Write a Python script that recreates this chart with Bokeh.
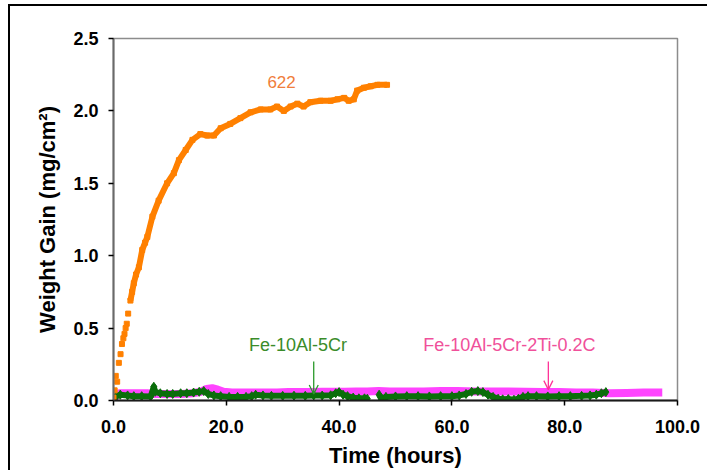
from bokeh.plotting import figure
from bokeh.models import Range1d, FixedTicker, NumeralTickFormatter, Label, Arrow, OpenHead
from bokeh.embed import file_html
from bokeh.resources import INLINE

# ---- data ----
x_ticks = [0, 20, 40, 60, 80, 100]
y_ticks = [0.0, 0.5, 1.0, 1.5, 2.0, 2.5]

t_622 = [0.0, 0.2, 0.4, 0.65, 0.95, 1.25, 1.5, 1.75, 1.95, 2.15, 2.35, 2.6, 3.0, 3.3, 3.6,
         4.0, 4.5, 5.1, 5.6, 6.0, 6.9, 8.0, 9.5, 10.7, 11.6, 12.8, 14.0, 15.4, 16.6, 17.8,
         19.0, 20.7, 22.5, 24.3, 26.1, 27.8, 29.0, 30.2, 31.4, 32.6, 33.7, 34.9, 36.7, 38.5,
         39.7, 40.9, 41.7, 42.6, 43.2, 44.4, 45.6, 46.8, 48.5]
w_622 = [0.02, 0.07, 0.17, 0.13, 0.26, 0.32, 0.39, 0.43, 0.46, 0.50, 0.53, 0.60, 0.69, 0.75, 0.81,
         0.87, 0.92, 1.04, 1.09, 1.13, 1.27, 1.38, 1.50, 1.57, 1.66, 1.73, 1.80, 1.84, 1.83, 1.83,
         1.88, 1.91, 1.95, 1.99, 2.01, 2.01, 2.03, 2.00, 2.03, 2.05, 2.03, 2.06, 2.07, 2.07,
         2.08, 2.09, 2.07, 2.08, 2.14, 2.16, 2.17, 2.18, 2.18]

t_fe5cr = [0.0, 0.5, 1.2, 2.5, 3.6, 5.0, 6.6, 7.15, 7.4, 8.3, 9.5, 10.5, 11.9, 13.0, 14.2, 15.2,
           16.0, 16.8, 17.8, 19.0, 20.5, 22.0, 23.5, 24.5, 25.2, 26.5, 28.0, 30.0, 32.0, 34.0,
           35.5, 37.0, 38.5, 39.4, 40.0, 40.7, 41.5, 42.5, 43.5, 44.5, 45.0, 46.0, 47.1, 47.5,
           48.3, 50.0, 52.0, 54.0, 56.0, 58.0, 60.0, 61.3, 62.5, 63.5, 64.6, 65.5, 66.4, 67.3,
           68.2, 69.0, 70.0, 71.0, 71.8, 72.6, 73.5, 75.0, 77.0, 79.0, 81.0, 83.0, 84.5, 85.6,
           86.5, 87.3]
w_fe5cr = [0.01, 0.03, 0.04, 0.035, 0.03, 0.03, 0.028, 0.095, 0.06, 0.05, 0.045, 0.045, 0.05,
           0.05, 0.055, 0.06, 0.065, 0.045, 0.035, 0.03, 0.025, 0.025, 0.025, 0.03, 0.04, 0.035,
           0.032, 0.032, 0.033, 0.032, 0.035, 0.034, 0.036, 0.05, 0.058, 0.04, 0.03, 0.02, 0.015,
           0.015, 0.012, float("nan"), 0.04, 0.012, 0.025, 0.028, 0.03, 0.03, 0.028, 0.03, 0.03,
           0.035, 0.045, 0.06, 0.065, 0.058, 0.04, 0.025, 0.012, 0.008, 0.01, 0.005, 0.012, 0.025,
           0.03, 0.03, 0.028, 0.03, 0.03, 0.032, 0.035, 0.04, 0.05, 0.058]

t_fe2ti = [0.0, 0.5, 1.0, 2.0, 4.0, 6.0, 7.0, 8.0, 10.0, 12.0, 14.0, 15.5, 16.5, 17.5, 18.5, 19.5,
           21.0, 23.0, 25.0, 27.0, 29.0, 31.0, 33.0, 35.0, 37.0, 39.0, 41.0, 43.0, 45.0, 47.0,
           49.0, 52.0, 55.0, 58.0, 61.0, 64.0, 67.0, 70.0, 73.0, 76.0, 79.0, 82.0, 85.0, 88.0,
           91.0, 94.0, 97.3]
w_fe2ti = [0.0, 0.04, 0.05, 0.05, 0.05, 0.05, 0.045, 0.045, 0.045, 0.045, 0.05, 0.06, 0.08, 0.085,
           0.075, 0.06, 0.055, 0.055, 0.055, 0.055, 0.055, 0.058, 0.058, 0.058, 0.06, 0.06, 0.06,
           0.062, 0.062, 0.065, 0.063, 0.063, 0.063, 0.065, 0.065, 0.063, 0.063, 0.062, 0.06,
           0.058, 0.058, 0.055, 0.055, 0.05, 0.052, 0.055, 0.055]

FONT = "Liberation Sans"
ORANGE = "#ff8000"
GREEN = "#0b6e0b"
MAGENTA = "#ff44ff"

# canvas starts at (10, 6) after the 8px/4px margin and 2px border
W, H = 697, 450
L, T = 103, 32
p = figure(frame_width=564, frame_height=362,
           min_border_left=L, min_border_right=W - L - 564, min_border_top=T,
           min_border_bottom=H - T - 362,
           x_range=Range1d(0, 100), y_range=Range1d(0, 2.5),
           output_backend="svg", toolbar_location=None,
           background_fill_color="white", border_fill_color="white")
p.styles = {"border-top": "2px solid black", "border-left": "2px solid black",
            "margin-left": "8px", "margin-top": "4px"}

p.grid.visible = False
p.outline_line_color = "#8c8c8c"
p.outline_line_width = 1.5

# series
p.line(t_fe2ti, w_fe2ti, line_color=MAGENTA, line_width=8, line_join="round")
p.line(t_fe5cr, w_fe5cr, line_color=GREEN, line_width=6, line_join="round")
p.scatter(t_fe5cr, w_fe5cr, marker="diamond", size=9, color=GREEN)
p.line(t_622[12:], w_622[12:], line_color=ORANGE, line_width=6)
p.scatter(t_622, w_622, marker="square", size=5, color=ORANGE)

# axes
p.xaxis.ticker = FixedTicker(ticks=x_ticks)
p.yaxis.ticker = FixedTicker(ticks=y_ticks)
p.xaxis.formatter = NumeralTickFormatter(format="0.0")
p.yaxis.formatter = NumeralTickFormatter(format="0.0")
for ax in (p.xaxis, p.yaxis):
    ax.major_label_text_font = FONT
    ax.major_label_text_font_style = "bold"
    ax.major_label_text_font_size = "18px"
    ax.major_label_text_color = "black"
    ax.axis_label_text_font = FONT
    ax.axis_label_text_font_style = "bold"
    ax.axis_label_text_font_size = "22px"
    ax.axis_label_text_color = "black"
    ax.major_tick_in = 0
    ax.major_tick_out = 5
    ax.major_tick_line_color = "black"
    ax.major_tick_line_width = 1.5
    ax.minor_tick_line_color = None
p.xaxis.axis_line_color = "#1a1a1a"
p.xaxis.axis_line_width = 2
p.yaxis.axis_line_color = "#6a6a6a"
p.yaxis.axis_line_width = 2
p.xaxis.major_label_standoff = 14
p.yaxis.major_label_standoff = 10
p.xaxis.axis_label = "Time (hours)"
p.yaxis.axis_label = "Weight Gain (mg/cm²)"
p.xaxis.axis_label_standoff = 7
p.yaxis.axis_label_standoff = 10

# annotations
p.add_layout(Label(x=29.8, y=2.2, text="622", text_font=FONT, text_font_size="17px",
                   text_color="#f07d3a", text_align="center", text_baseline="middle"))
p.add_layout(Label(x=32.7, y=0.38, text="Fe-10Al-5Cr", text_font=FONT, text_font_size="18px",
                   text_color="#3a8c2a", text_align="center", text_baseline="middle"))
p.add_layout(Label(x=70.2, y=0.38, text="Fe-10Al-5Cr-2Ti-0.2C", text_font=FONT,
                   text_font_size="18px", text_color="#f0509a", text_align="center",
                   text_baseline="middle"))
p.add_layout(Arrow(end=OpenHead(size=9, line_color="#2a9a2a", line_width=1.3),
                   x_start=35.5, y_start=0.27, x_end=35.5, y_end=0.045,
                   line_color="#2a9a2a", line_width=1.3))
p.add_layout(Arrow(end=OpenHead(size=9, line_color="#ff3399", line_width=1.3),
                   x_start=77.1, y_start=0.27, x_end=77.1, y_end=0.075,
                   line_color="#ff3399", line_width=1.3))

open("out.html", "w").write(file_html(p, INLINE))
